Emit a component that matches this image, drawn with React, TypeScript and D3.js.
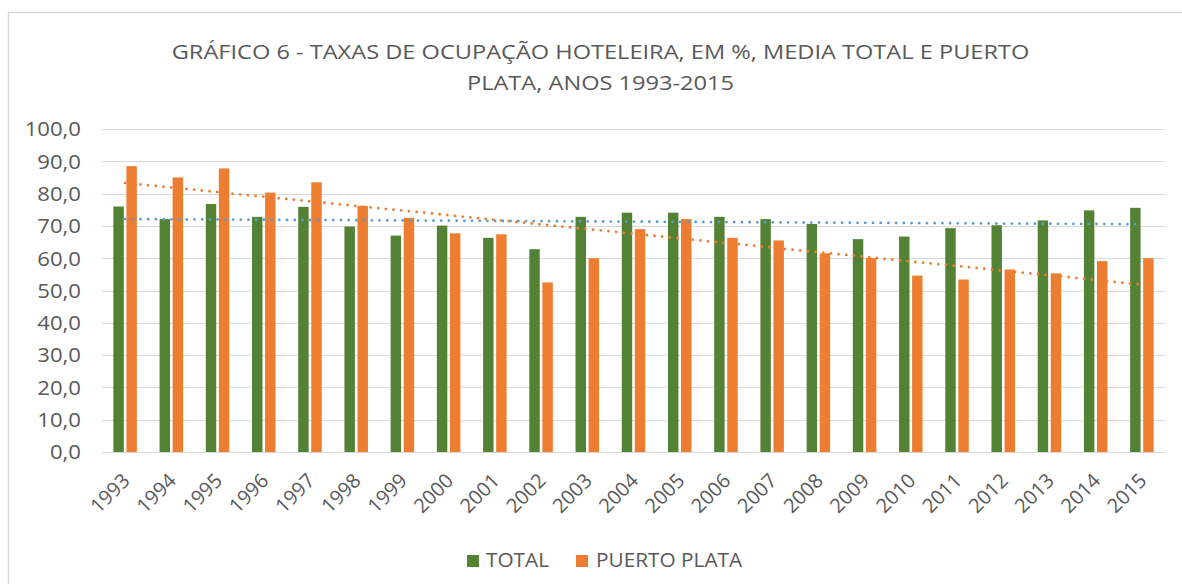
import React from "react";
import * as d3 from "d3";

const years = ["1993","1994","1995","1996","1997","1998","1999","2000","2001","2002","2003","2004","2005","2006","2007","2008","2009","2010","2011","2012","2013","2014","2015"];
const total = [76.0,72.1,76.8,72.8,75.9,69.8,67.0,70.1,66.3,62.8,72.8,74.1,74.1,72.8,72.1,70.6,65.9,66.7,69.3,70.2,71.7,74.8,75.6];
const puertoPlata = [88.5,85.0,87.8,80.3,83.5,76.2,72.5,67.7,67.4,52.5,60.0,69.0,72.1,66.3,65.5,61.5,60.1,54.6,53.4,56.5,55.3,59.1,60.0];
const yTicks = [0,10,20,30,40,50,60,70,80,90,100];
const titleLines = ["GRÁFICO 6 - TAXAS DE OCUPAÇÃO HOTELEIRA, EM %, MEDIA TOTAL E PUERTO", "PLATA, ANOS 1993-2015"];
const seriesNames = ["TOTAL", "PUERTO PLATA"];

const GREEN = "#548235";
const ORANGE = "#ED7D31";
const BLUE = "#5B9BD5";
const TXT = "#595959";
const GRID = "#d9d9d9";
const FONT = "'Open Sans', 'Noto Sans', 'DejaVu Sans', sans-serif";

function linReg(vals: number[]) {
  const xs = vals.map((_, i) => i);
  const mx = d3.mean(xs)!;
  const my = d3.mean(vals)!;
  let num = 0, den = 0;
  xs.forEach((x, i) => { num += (x - mx) * (vals[i] - my); den += (x - mx) ** 2; });
  const b = num / den;
  const a = my - b * mx;
  return xs.map((x) => a + b * x);
}

export default function App() {
  const x = d3.scaleBand<string>().domain(years).range([102, 1165]).paddingInner(0).paddingOuter(0);
  const y = d3.scaleLinear().domain([0, 100]).range([452, 129]);
  const sub = d3.scaleBand<number>().domain([0, 1]).range([0, 23.5]).paddingInner(0.2);
  const bw = sub.bandwidth();
  const cx = (yr: string) => x(yr)! + x.bandwidth() / 2;
  const line = d3.line<number>().x((_, i) => cx(years[i])).y((v) => y(v));
  const trendT = linReg(total);
  const trendP = linReg(puertoPlata);

  return (
    <svg width={1182} height={584} style={{ position: "absolute", left: 0, top: 0 }} fontFamily={FONT}>
      <rect x={0} y={0} width={1182} height={584} fill="#fff" />
      <rect x={8.5} y={12.5} width={1180} height={600} fill="#fff" stroke={GRID} strokeWidth={1.5} />
      {titleLines.map((t, i) => (
        <text key={i} transform={`translate(600.5,${59 + i * 30.5}) scale(1.18,1)`} textAnchor="middle" fontSize={20} fill={TXT}>{t}</text>
      ))}
      {yTicks.map((t) => (
        <g key={t}>
          <line x1={102} x2={1165} y1={Math.round(y(t)) + 0.5} y2={Math.round(y(t)) + 0.5} stroke={GRID} strokeWidth={1} />
          <text transform={`translate(81,${y(t)}) scale(1.08,1)`} dy="0.36em" textAnchor="end" fontSize={20.5} fill={TXT}>{d3.format(".1f")(t).replace(".", ",")}</text>
        </g>
      ))}
      {years.map((yr, i) => {
        const base = cx(yr) - 11.75;
        return (
          <g key={yr}>
            <rect x={base + sub(0)!} y={y(total[i])} width={bw} height={y(0) - y(total[i])} fill={GREEN} />
            <rect x={base + sub(1)!} y={y(puertoPlata[i])} width={bw} height={y(0) - y(puertoPlata[i])} fill={ORANGE} />
            <text transform={`translate(${cx(yr) + 6},${482}) rotate(-45)`} textAnchor="end" fontSize={20} fill={TXT}>{yr}</text>
          </g>
        );
      })}
      <path d={line(trendT)!} fill="none" stroke={BLUE} strokeWidth={2.8} strokeLinecap="round" strokeDasharray="0.01 7.7" />
      <path d={line(trendP)!} fill="none" stroke={ORANGE} strokeWidth={2.8} strokeLinecap="round" strokeDasharray="0.01 7.7" />
      <g fontSize={20} fill={TXT}>
        <rect x={467} y={555} width={12} height={12} fill={GREEN} />
        <text transform="translate(486,567) scale(1.04,1)">{seriesNames[0]}</text>
        <rect x={576} y={555} width={12} height={12} fill={ORANGE} />
        <text transform="translate(596,567) scale(1.04,1)">{seriesNames[1]}</text>
      </g>
    </svg>
  );
}
